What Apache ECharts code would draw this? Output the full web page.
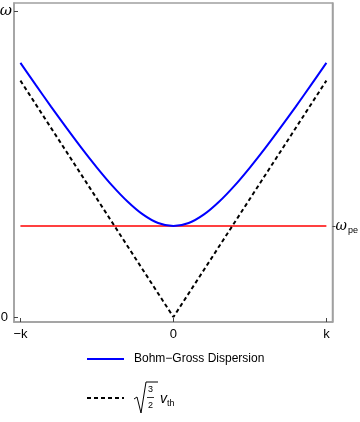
<!DOCTYPE html>
<html><head><meta charset="utf-8">
<script src="https://cdn.jsdelivr.net/npm/echarts@6/dist/echarts.min.js"></script>
<style>html,body{margin:0;padding:0;background:#fff}#c{width:360px;height:422px}</style>
</head><body><div id="c"></div>
<script>
// wave number (in units of k) and frequencies
var kValues = [-1, -0.9, -0.8, -0.7, -0.6, -0.5, -0.4, -0.3, -0.2, -0.1, 0, 0.1, 0.2, 0.3, 0.4, 0.5, 0.6, 0.7, 0.8, 0.9, 1];
var bohmGross = [2.655, 2.425, 2.199, 1.979, 1.765, 1.562, 1.373, 1.207, 1.072, 0.982, 0.950, 0.982, 1.072, 1.207, 1.373, 1.562, 1.765, 1.979, 2.199, 2.425, 2.655];
var thermalK = [-1, 0, 1];
var thermalLine = [2.47, 0, 2.47];
var plasmaK = [-1, 1];
var plasmaLine = [0.95, 0.95];
var xTickValues = [-1, 0, 1];
var xTickLabels = ['\u2212k', '0', 'k'];
var yTickValues = [0, 3.2];
var yRightTickValues = [0.95];
var seriesNames = ['Bohm\u2212Gross Dispersion', '\u221a(3/2) v_th'];

function pairs(xs, ys){ return xs.map(function(x,i){return [x, ys[i]];}); }

var chart = echarts.init(document.getElementById('c'), null, {renderer:'canvas'});
var frame = '#a0a0a0';
var font = 'Liberation Sans, Arial, sans-serif';
chart.setOption({
  animation: false,
  grid: {left: 14, right: 27.5, top: 3, bottom: 100, containLabel: false, outerBoundsMode: 'none',
         show: true, borderColor: frame, borderWidth: 1.5},
  xAxis: {
    type: 'value', min: -1.042, max: 1.04,
    axisLine: {show: true, onZero: false, lineStyle: {color: frame, width: 1.5}},
    splitLine: {show: false},
    axisTick: {show: true, inside: true, length: 4, customValues: xTickValues, lineStyle: {color: '#444', width: 1}},
    axisLabel: {customValues: xTickValues, fontSize: 13, color: '#000', fontFamily: font, margin: 6,
      formatter: function(v){ var i = xTickValues.indexOf(v); return i >= 0 ? xTickLabels[i] : ''; }}
  },
  yAxis: [{
    type: 'value', min: -0.052, max: 3.281, position: 'left',
    axisLine: {show: true, onZero: false, lineStyle: {color: frame, width: 1.5}},
    splitLine: {show: false},
    axisTick: {show: true, inside: true, length: 4, customValues: yTickValues, lineStyle: {color: '#444', width: 1}},
    axisLabel: {customValues: yTickValues, color: '#000', margin: 2,
      formatter: function(v){ return v === 0 ? '{z|0}' : '{w|\u03c9}'; },
      rich: {w: {fontStyle: 'italic', fontSize: 15, fontFamily: 'DejaVu Serif, serif', color: '#000'},
             z: {fontSize: 13, fontFamily: font, color: '#000', padding: [0, 4, 0, 0]}}}
  }, {
    type: 'value', min: -0.052, max: 3.281, position: 'right',
    axisLine: {show: true, onZero: false, lineStyle: {color: frame, width: 1.5}},
    splitLine: {show: false},
    axisTick: {show: true, inside: false, length: 3, customValues: yRightTickValues, lineStyle: {color: '#444', width: 1}},
    axisLabel: {customValues: yRightTickValues, margin: 3,
      formatter: function(){ return '{w|\u03c9}{s|pe}'; },
      rich: {w: {fontStyle: 'italic', fontSize: 14, fontFamily: 'DejaVu Serif, serif', color: '#000'},
             s: {fontSize: 9, fontFamily: font, color: '#000', padding: [8, 0, 0, 1]}}}
  }],
  legend: {
    orient: 'vertical', left: 86, top: 353, padding: 0, itemWidth: 37, itemHeight: 14, itemGap: 26,
    data: seriesNames,
    itemStyle: {opacity: 0},
    textStyle: {fontSize: 12, fontFamily: font, color: '#000', padding: [0, 0, 0, 5]},
    formatter: function(n){ return n === seriesNames[0] ? n : ''; }
  },
  graphic: [
    {type: 'polyline', shape: {points: [[134, 399], [137, 397], [141, 413], [146, 382], [158, 382]]}, style: {stroke: '#000', fill: null, lineWidth: 1}},
    {type: 'text', left: 148, top: 385, style: {text: '3', font: '9px Liberation Sans', fill: '#000'}},
    {type: 'line', shape: {x1: 147, y1: 397.5, x2: 154, y2: 397.5}, style: {stroke: '#000', lineWidth: 0.8}},
    {type: 'text', left: 148, top: 401, style: {text: '2', font: '9px Liberation Sans', fill: '#000'}},
    {type: 'text', left: 160, top: 392, style: {text: 'v', font: 'italic 14px Liberation Sans', fill: '#000'}},
    {type: 'text', left: 167, top: 399, style: {text: 'th', font: '9px Liberation Sans', fill: '#000'}}
  ],
  series: [{
    name: seriesNames[0], type: 'line', data: pairs(kValues, bohmGross), smooth: 0.3, symbol: 'none',
    lineStyle: {color: '#0000ff', width: 2}, itemStyle: {color: '#0000ff'}, z: 3
  }, {
    name: seriesNames[1], type: 'line', data: pairs(thermalK, thermalLine), symbol: 'none',
    lineStyle: {color: '#000', width: 2, type: [4, 3]}, itemStyle: {color: '#000'}, z: 2
  }, {
    name: 'plasma', type: 'line', data: pairs(plasmaK, plasmaLine), symbol: 'none',
    lineStyle: {color: '#ff0000', width: 1.5}, itemStyle: {color: '#ff0000'}, z: 1
  }]
});
</script></body></html>
